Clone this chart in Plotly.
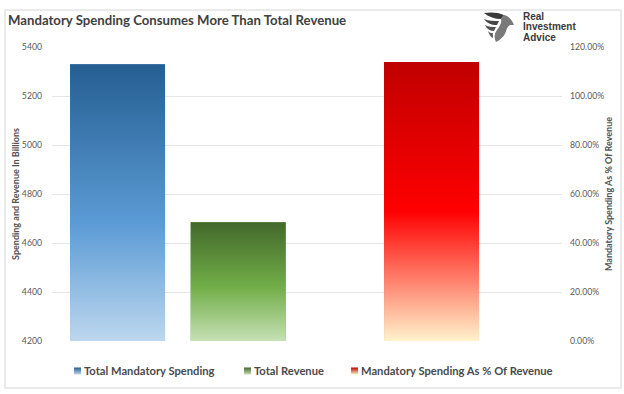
import plotly.graph_objects as go

title = "Mandatory Spending Consumes More Than Total Revenue"
logo_lines = ["Real", "Investment", "Advice"]
series = ["Total Mandatory Spending", "Total Revenue", "Mandatory Spending As % Of Revenue"]
values = [5330, 4685, 1.139]
x_slots = [0.69, 1.96, 3.995]
axes = ["y", "y", "y2"]
bases = [4200, 4200, 0]
left_ticks = [4200, 4400, 4600, 4800, 5000, 5200, 5400]
right_ticks = [0, 0.2, 0.4, 0.6, 0.8, 1.0, 1.2]
grad_stops = [
    [[0, "#BDD7EE"], [0.425, "#5B9BD5"], [1, "#255E91"]],
    [[0, "#C5E0B4"], [0.46, "#70AD47"], [1, "#43682B"]],
    [[0, "#FFF2CC"], [0.465, "#FF0000"], [1, "#C00000"]],
]
legend_x_px = [44, 214, 321]

W, H = 624, 394
L, R, T, B = 52, 62, 47, 53
PW, PH = W - L - R, H - T - B
px = lambda x: (x - L) / PW
py = lambda y: (H - B - y) / PH
BAR = 1.0

fig = go.Figure()
for i, name in enumerate(series):
    c, v, b = x_slots[i], values[i], bases[i]
    stops = grad_stops[i]
    fig.add_trace(go.Bar(x=[c], y=[v], width=BAR, yaxis=axes[i], name=name,
                         marker=dict(color=stops[1][1], line_width=0),
                         showlegend=False))
    fig.add_trace(go.Scatter(
        x=[c - BAR / 2, c + BAR / 2, c + BAR / 2, c - BAR / 2, c - BAR / 2],
        y=[b, b, v, v, b], yaxis=axes[i], mode="lines", line=dict(width=0),
        fill="toself", hoverinfo="skip", showlegend=False,
        fillgradient=dict(type="vertical", colorscale=stops),
    ))
    lg = "legend" if i == 0 else f"legend{i + 1}"
    fig.add_trace(go.Scatter(
        x=[None], y=[None], mode="markers", name=name, legend=lg,
        marker=dict(symbol="square", size=7, color=stops[2][1],
                    gradient=dict(type="vertical", color=stops[0][1]), line_width=0),
    ))

legend_style = dict(orientation="h", xanchor="left", yanchor="middle", y=py(371),
                    bgcolor="rgba(0,0,0,0)", itemwidth=30,
                    font=dict(family="Lato", size=11.2, color="#4A4A4A", weight=700))

annotations = [
    dict(text=title, xref="paper", yref="paper", x=px(6), y=py(20), xanchor="left", yanchor="middle",
         showarrow=False, font=dict(family="Lato", size=13.2, color="#404040", weight=700)),
]
for line, y in zip(logo_lines, [16.5, 27, 37.5]):
    annotations.append(dict(text=line, xref="paper", yref="paper", x=px(521.5), y=py(y),
                            xanchor="left", yanchor="middle", showarrow=False, borderpad=0,
                            font=dict(family="Liberation Sans", size=10, color="#3A3A3A", weight=700)))

fig.update_layout(
    width=W, height=H, margin=dict(l=L, r=R, t=T, b=B, autoexpand=False),
    paper_bgcolor="white", plot_bgcolor="white", barmode="overlay",
    font=dict(family="Lato", color="#595959"),
    xaxis=dict(range=[0, PW / 95], visible=False),
    yaxis=dict(range=[4200, 5400], tickvals=left_ticks, gridcolor="#E6E6E6", gridwidth=1,
               zeroline=False, showline=False, ticks="", ticklabelstandoff=9,
               tickfont=dict(size=8.7, color="#595959"),
               title=dict(text="Spending and Revenue In Billions", standoff=0,
                          font=dict(size=9, color="#505050", weight=700))),
    yaxis2=dict(range=[0, 1.2], tickvals=right_ticks, tickformat=".2%", overlaying="y", side="right",
                showgrid=False, zeroline=False, showline=False, ticks="", ticklabelstandoff=7,
                tickfont=dict(size=8.7, color="#595959"),
                title=dict(text="Mandatory Spending As % Of Revenue", standoff=2,
                           font=dict(size=9, color="#505050", weight=700))),
    legend=dict(legend_style, x=px(legend_x_px[0])),
    legend2=dict(legend_style, x=px(legend_x_px[1])),
    legend3=dict(legend_style, x=px(legend_x_px[2])),
    annotations=annotations,
)

def pth(d):
    out = []
    for tok in d.split():
        if "," in tok:
            a, b = tok.split(",")
            out.append(f"{px(float(a)):.5f},{py(float(b)):.5f}")
        else:
            out.append(tok)
    return " ".join(out)

eagle = [
    ("M 484,13 C 490,12 498,12 504,15 L 501,19 C 495,19 489,17 484,13 Z", "#3A3A3A"),
    ("M 484,19 C 489,21 494,21 499,21 L 497,25 C 491,25 487,23 484,19 Z", "#464646"),
    ("M 485,25 C 489,27 492,27 496,27 L 494,31 C 490,31 487,29 485,25 Z", "#525252"),
    ("M 488,31 C 490,33 491,33 493,33 L 493,38 C 490,37 489,34 488,31 Z", "#666666"),
    ("M 504,15 C 509,16 512,20 514,25 L 510,25 C 508,26 507,28 506,31 C 505,36 500,40 496,42 "
     "C 494,38 494,34 497,30 C 500,26 502,22 501,19 Z", "#7A7A7A"),
]
shapes = [dict(type="rect", xref="paper", yref="paper", x0=px(5), x1=px(621), y0=py(388), y1=py(10),
               line=dict(color="#E4E4E4", width=1.5), layer="below")]
for d, col in eagle:
    shapes.append(dict(type="path", xref="paper", yref="paper", path=pth(d),
                       fillcolor=col, line_width=0))
fig.update_layout(shapes=shapes)

post = """
document.body.style.margin = '0';
document.querySelectorAll('.legendpoints').forEach(function (g) {
  g.setAttribute('transform', 'translate(13.5,0)');
});
"""
fig.write_html("out.html", post_script=post, config=dict(displayModeBar=False))
